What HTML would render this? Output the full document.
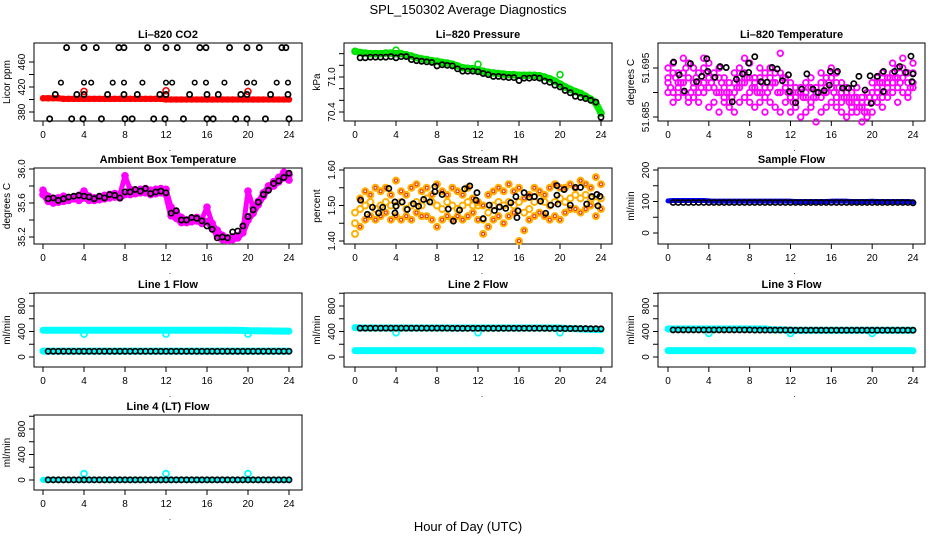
<!DOCTYPE html>
<html><head><meta charset="utf-8"><style>
html,body{margin:0;padding:0;background:#fff;}
svg{display:block;font-family:"Liberation Sans",Arial,sans-serif;}
</style></head><body>
<svg id="chart" width="936" height="540" viewBox="0 0 936 540">
<rect x="0" y="0" width="936" height="540" fill="#fff"/>
<text x="468" y="14" text-anchor="middle" font-size="13">SPL_150302  Average Diagnostics</text>
<text x="468" y="531" text-anchor="middle" font-size="13">Hour of Day (UTC)</text>
</svg>
<script>
// ---------- data ----------
const hh=[0,0.5,1,1.5,2,2.5,3,3.5,4,4.5,5,5.5,6,6.5,7,7.5,8,8.5,9,9.5,10,10.5,11,11.5,12,12.5,13,13.5,14,14.5,15,15.5,16,16.5,17,17.5,18,18.5,19,19.5,20,20.5,21,21.5,22,22.5,23,23.5,24];
const hb=[0.5,1,1.5,2,2.5,3,3.5,4,4.5,5,5.5,6,6.5,7,7.5,8,8.5,9,9.5,10,10.5,11,11.5,12,12.5,13,13.5,14,14.5,15,15.5,16,16.5,17,17.5,18,18.5,19,19.5,20,20.5,21,21.5,22,22.5,23,23.5,24];
const hq=[0.25,0.75,1.25,1.75,2.25,2.75,3.25,3.75,4.25,4.75,5.25,5.75,6.25,6.75,7.25,7.75,8.25,8.75,9.25,9.75,10.25,10.75,11.25,11.75,12.25,12.75,13.25,13.75,14.25,14.75,15.25,15.75,16.25,16.75,17.25,17.75,18.25,18.75,19.25,19.75,20.25,20.75,21.25,21.75,22.25,22.75,23.25,23.75];
// CO2
const co2Red=[402,402,402,402,401,401,401,401,401,401,401,401,401,401,401,401,401,401,401,401,401,401,401,401,400,400,400,400,400,400,400,400,400,400,400,400,400,400,400,400,400,400,400,400,400,400,400,400,400];
const co2RedOutT=[4,12,20];
const co2RedOutV=[413,414,413];
const co2TopT=[2.3,4.0,5.2,7.4,7.9,10.2,12.0,13.1,15.3,15.9,18.2,19.9,21.1,23.3,23.7];
const co2TopV=[483,483,483,483,483,483,483,483,483,483,483,483,483,483,483];
const co2SqT=[1.75,4.0,4.7,6.8,7.9,9.7,12.0,12.6,14.8,15.9,17.7,19.9,20.6,22.8,23.9];
const co2SqV=[427,427,427,427,427,427,427,427,427,427,427,427,427,427,427];
const co2MidT=[1.2,3.3,4.0,6.3,7.9,9.2,11.4,12.0,14.3,16.0,17.1,19.3,19.9,22.2,23.9];
const co2MidV=[408,408,408,408,408,408,408,408,408,408,408,408,408,408,408];
const co2LowT=[0.65,2.8,3.9,5.7,8.0,8.7,10.8,11.9,13.7,16.0,16.6,18.8,19.9,21.7,24.0];
const co2LowV=[369,369,369,369,369,369,369,369,369,369,369,369,369,369,369];
// Pressure
const presGreen=[71.44,71.42,71.41,71.40,71.40,71.40,71.41,71.41,71.40,71.40,71.38,71.36,71.33,71.31,71.30,71.28,71.27,71.25,71.24,71.22,71.19,71.16,71.15,71.14,71.12,71.10,71.08,71.07,71.06,71.05,71.04,71.04,71.03,71.03,71.03,71.03,71.02,71.00,70.97,70.93,70.88,70.83,70.79,70.75,70.72,70.67,70.62,70.55,70.38];
const presBlack=[71.33,71.33,71.34,71.34,71.34,71.34,71.35,71.33,71.35,71.35,71.30,71.28,71.27,71.26,71.25,71.19,71.21,71.20,71.19,71.14,71.10,71.10,71.10,71.09,71.06,71.04,71.01,71.01,71.00,70.99,70.99,70.94,70.98,70.98,70.99,70.98,70.93,70.91,70.86,70.83,70.77,70.73,70.67,70.65,70.63,70.60,70.57,70.31];
// Li-820 temperature
const tempA=[51.695,51.696,51.694,51.697,51.696,51.695,51.694,51.697,51.696,51.694,51.695,51.693,51.692,51.694,51.695,51.697,51.696,51.693,51.695,51.694,51.695,51.694,51.698,51.693,51.692,51.691,51.690,51.692,51.693,51.691,51.694,51.693,51.695,51.694,51.692,51.691,51.690,51.691,51.689,51.690,51.692,51.693,51.694,51.693,51.696,51.695,51.697,51.694,51.696];
const tempB=[51.692,51.690,51.691,51.692,51.689,51.691,51.690,51.692,51.691,51.693,51.690,51.689,51.688,51.690,51.691,51.692,51.690,51.691,51.690,51.689,51.691,51.692,51.690,51.691,51.689,51.688,51.690,51.689,51.688,51.690,51.689,51.690,51.691,51.689,51.688,51.689,51.687,51.688,51.687,51.686,51.688,51.690,51.689,51.691,51.692,51.691,51.693,51.690,51.692];
const tempC=[51.690,51.688,51.689,51.690,51.688,51.689,51.688,51.690,51.687,51.688,51.686,51.688,51.687,51.686,51.688,51.689,51.688,51.687,51.688,51.686,51.688,51.687,51.686,51.688,51.686,51.687,51.685,51.686,51.687,51.684,51.686,51.687,51.688,51.687,51.686,51.685,51.686,51.686,51.684,51.685,51.686,51.688,51.687,51.689,51.690,51.688,51.690,51.689,51.691];
const tempD=[51.693,51.694,51.692,51.694,51.693,51.692,51.692,51.695,51.693,51.691,51.693,51.691,51.690,51.692,51.693,51.694,51.693,51.692,51.693,51.691,51.693,51.692,51.694,51.692,51.690,51.689,51.691,51.690,51.691,51.689,51.692,51.691,51.693,51.692,51.690,51.690,51.688,51.689,51.688,51.688,51.690,51.691,51.692,51.692,51.694,51.693,51.695,51.692,51.694];
const tempE=[51.691,51.693,51.692,51.695,51.690,51.693,51.691,51.694,51.692,51.690,51.692,51.690,51.689,51.691,51.692,51.693,51.691,51.690,51.692,51.690,51.692,51.690,51.693,51.690,51.688,51.690,51.689,51.691,51.689,51.690,51.690,51.692,51.690,51.691,51.689,51.688,51.689,51.687,51.686,51.689,51.689,51.692,51.690,51.693,51.693,51.692,51.694,51.691,51.693];
const tempBlkT=[0.55,1.1,1.6,2.2,2.8,3.3,3.8,3.9,4.6,5.1,5.7,6.3,6.7,7.3,7.9,7.9,8.5,9.1,9.7,10.2,10.7,11.2,11.8,11.9,12.5,13.1,13.6,14.2,14.7,15.3,15.8,15.9,16.6,17.1,17.7,18.2,18.7,19.3,19.8,19.9,20.5,21.1,21.1,22.2,22.7,23.3,23.8,23.9,24];
const tempBlkV=[51.6962,51.6936,51.6903,51.6959,51.6922,51.6933,51.6969,51.6943,51.6931,51.6953,51.6951,51.6881,51.6927,51.6938,51.6960,51.6941,51.6973,51.6922,51.6921,51.6951,51.6948,51.6924,51.6936,51.6902,51.6879,51.6907,51.6938,51.6907,51.6900,51.6904,51.6915,51.6943,51.6943,51.6909,51.6909,51.6918,51.6933,51.6905,51.6934,51.6878,51.6933,51.6902,51.6943,51.6943,51.6953,51.6941,51.6974,51.6922,51.6938];
// Ambient
const ambA=[35.75,35.68,35.64,35.66,35.68,35.66,35.67,35.69,35.74,35.68,35.66,35.67,35.69,35.70,35.71,35.70,35.92,35.76,35.74,35.76,35.77,35.75,35.76,35.77,35.76,35.55,35.49,35.43,35.40,35.42,35.43,35.41,35.55,35.36,35.28,35.22,35.19,35.20,35.21,35.28,35.74,35.55,35.62,35.72,35.80,35.85,35.90,35.96,35.93];
const ambB=[35.70,35.62,35.60,35.61,35.62,35.63,35.65,35.63,35.66,35.63,35.63,35.64,35.65,35.66,35.67,35.66,35.70,35.70,35.71,35.72,35.72,35.70,35.71,35.72,35.70,35.45,35.42,35.37,35.37,35.38,35.39,35.36,35.38,35.31,35.22,35.17,35.16,35.17,35.19,35.25,35.40,35.48,35.58,35.68,35.77,35.80,35.85,35.90,35.87];
const ambBlk=[35.65,35.66,35.63,35.65,35.67,35.68,35.69,35.68,35.67,35.65,35.68,35.66,35.70,35.69,35.66,35.73,35.73,35.76,35.74,35.77,35.71,35.73,35.74,35.72,35.48,35.51,35.40,35.40,35.43,35.42,35.39,35.33,35.29,35.19,35.20,35.19,35.26,35.27,35.33,35.44,35.52,35.61,35.70,35.75,35.83,35.86,35.90,35.95];
// RH
const rhA=[1.48,1.52,1.54,1.53,1.55,1.54,1.55,1.53,1.57,1.54,1.53,1.55,1.56,1.54,1.55,1.53,1.56,1.54,1.53,1.55,1.54,1.53,1.55,1.52,1.51,1.50,1.53,1.54,1.55,1.54,1.56,1.54,1.55,1.52,1.53,1.55,1.54,1.53,1.55,1.56,1.55,1.55,1.56,1.55,1.57,1.56,1.55,1.58,1.56];
const rhB=[1.45,1.49,1.50,1.51,1.49,1.50,1.51,1.50,1.50,1.51,1.49,1.50,1.51,1.50,1.52,1.51,1.50,1.49,1.51,1.50,1.49,1.50,1.51,1.50,1.50,1.46,1.48,1.50,1.51,1.50,1.51,1.50,1.51,1.48,1.49,1.51,1.52,1.51,1.50,1.51,1.52,1.51,1.52,1.53,1.52,1.53,1.52,1.51,1.52];
const rhC=[1.42,1.44,1.46,1.47,1.46,1.47,1.48,1.46,1.47,1.46,1.47,1.46,1.48,1.47,1.47,1.46,1.44,1.46,1.47,1.46,1.47,1.46,1.47,1.48,1.46,1.42,1.44,1.46,1.47,1.45,1.47,1.48,1.40,1.43,1.46,1.47,1.48,1.47,1.46,1.47,1.46,1.48,1.49,1.49,1.48,1.49,1.50,1.47,1.49];
const rhBlkT=[0.55,1.2,1.7,2.3,2.7,3.3,3.9,3.9,4.0,4.6,5.1,5.7,6.2,6.7,7.3,7.8,7.8,8.5,9.1,9.6,10.2,10.7,11.2,11.8,11.9,12.5,13.1,13.6,14.1,14.7,15.2,15.7,15.8,15.9,16.5,17.0,17.5,18.1,18.6,19.1,19.7,19.7,19.8,20.4,21.0,21.5,22.0,22.6,23.1,23.6,23.7,23.9];
const rhBlkV=[1.515,1.475,1.495,1.479,1.495,1.548,1.510,1.479,1.498,1.510,1.489,1.505,1.498,1.517,1.510,1.539,1.553,1.531,1.490,1.456,1.487,1.547,1.555,1.515,1.536,1.463,1.501,1.486,1.496,1.492,1.508,1.525,1.466,1.485,1.536,1.523,1.525,1.512,1.478,1.501,1.556,1.529,1.504,1.545,1.501,1.551,1.551,1.504,1.525,1.531,1.499,1.526];
// Sample flow
const sampBlue=[102,103,103,103,103,103,103,103,102,101,101,101,101,101,101,101,101,101,101,101,101,101,101,101,101,100,100,100,100,100,100,100,101,101,101,101,100,100,100,100,101,100,100,100,100,100,100,100,99];
const sampBlack=[97,97,97,97,97,97,97,97,97,97,97,97,97,97,97,97,97,97,97,97,97,97,97,97,97,97,97,97,97,97,97,97,97,97,97,97,97,97,97,97,97,97,97,97,97,97,97,96];
// Line flows
const l1CyanHi=[420,420,420,420,420,420,420,420,420,420,420,420,420,420,420,420,420,420,420,420,420,420,420,420,420,420,420,420,420,420,420,420,420,420,420,420,420,420,418,418,414,412,412,410,410,408,408,406,405];
const l1CyanLo=[92,92,92,92,92,92,92,92,92,92,92,92,92,92,92,92,92,92,92,92,92,92,92,92,92,92,92,92,92,92,92,92,92,92,92,92,92,92,92,92,92,92,92,92,92,92,92,92,92];
const l1Black=[90,90,90,90,90,90,90,90,90,90,90,90,90,90,90,90,90,90,90,90,90,90,90,90,90,90,90,90,90,90,90,90,90,90,90,90,90,90,90,90,90,90,90,90,90,90,90,90];
const l1OutT=[4,12,20];
const l1OutV=[360,360,360];
const l2CyanHi=[460,455,455,455,455,455,455,455,455,455,455,455,455,455,455,455,455,455,455,455,455,455,455,455,455,455,455,455,455,455,455,455,455,455,455,455,455,455,455,455,455,450,448,445,440,438,435,432,430];
const l2CyanLo=[100,100,100,100,100,100,100,100,100,100,100,100,100,100,100,100,100,100,100,100,100,100,100,100,100,100,100,100,100,100,100,100,100,100,100,100,100,100,100,100,100,100,100,100,100,100,100,100,98];
const l2Black=[452,452,452,452,452,452,452,452,452,452,452,452,452,452,452,452,452,452,450,450,450,450,450,450,450,450,450,450,450,450,450,450,450,450,450,450,450,448,448,448,446,446,446,445,445,443,443,442];
const l2OutT=[4,12,20];
const l2OutV=[380,380,380];
const l3CyanHi=[440,440,440,440,440,440,440,440,440,440,440,440,440,440,440,440,440,440,440,440,430,425,425,425,420,420,420,420,420,420,420,420,420,420,420,420,420,420,420,420,420,420,420,420,420,420,420,420,420];
const l3CyanLo=[100,100,100,100,100,100,100,100,100,100,100,100,100,100,100,100,100,100,100,100,100,100,100,100,100,100,100,100,100,100,100,100,100,100,100,100,100,100,100,100,100,100,100,100,100,100,100,100,98];
const l3Black=[425,425,425,425,425,425,425,425,425,425,425,425,425,425,425,425,422,422,422,422,422,422,422,422,420,420,420,420,420,420,420,420,420,420,420,420,420,420,420,420,420,420,420,420,420,420,420,420];
const l3OutT=[4,12,20];
const l3OutV=[370,370,370];
const l4Cyan=[2,2,2,2,2,2,2,2,2,2,2,2,2,2,2,2,2,2,2,2,2,2,2,2,2,2,2,2,2,2,2,2,2,2,2,2,2,2,2,2,2,2,2,2,2,2,2,2,2];
const l4Black=[2,2,2,2,2,2,2,2,2,2,2,2,2,2,2,2,2,2,2,2,2,2,2,2,2,2,2,2,2,2,2,2,2,2,2,2,2,2,2,2,2,2,2,2,2,2,2,2];
const l4OutT=[4,12,20];
const l4OutV=[100,100,100];
const xTicks=[0,4,8,12,16,20,24];

// ---------- layout ----------
const NS='http://www.w3.org/2000/svg';
const svg=document.getElementById('chart');
const COLS=[{bl:34,br:302,x0:43,x24:289},{bl:344,br:612,x0:355,x24:601},{bl:658,br:925,x0:668,x24:913}];
const ROWS=[{bt:43,bb:121},{bt:168,bb:244},{bt:293,bb:367},{bt:415,bb:490}];
function el(tag,attrs,parent){const e=document.createElementNS(NS,tag);for(const k in attrs)e.setAttribute(k,attrs[k]);(parent||svg).appendChild(e);return e;}
function mkY(v1,p1,v2,p2){return v=>p1+(v-v1)*(p2-p1)/(v2-v1);}

function panel(key,title,col,row,ylab,Y,ticks,labels){
  const c=COLS[col],r=ROWS[row];
  const g=el('g',{});
  
  
  const X=t=>c.x0+t*(c.x24-c.x0)/24;
  const box=el('rect',{x:c.bl,y:r.bt,width:c.br-c.bl,height:r.bb-r.bt,fill:'none',stroke:'#000','stroke-width':1},g);
  
  
  const tt=el('text',{x:(c.bl+c.br)/2,y:r.bt-5,'text-anchor':'middle','font-size':11,'font-weight':'bold'},g);
  tt.textContent=title;
  
  
  const xa=el('g',{},g);
  
  
  el('line',{x1:X(0),x2:X(24),y1:r.bb,y2:r.bb,stroke:'#000'},xa);
  xTicks.forEach(t=>{
    el('line',{x1:X(t),x2:X(t),y1:r.bb,y2:r.bb+5,stroke:'#000'},xa);
    const lt=el('text',{x:X(t),y:r.bb+17,'text-anchor':'middle','font-size':10},xa);
    lt.textContent=t;
    
    
  });
  const ya=el('g',{},g);
  
  
  el('line',{x1:c.bl,x2:c.bl,y1:Y(ticks[0]),y2:Y(ticks[ticks.length-1]),stroke:'#000'},ya);
  ticks.forEach(v=>{el('line',{x1:c.bl-5,x2:c.bl,y1:Y(v),y2:Y(v),stroke:'#000'},ya);});
  labels.forEach(s=>{
    const y=Y(parseFloat(s));
    const lt=el('text',{x:c.bl-9,y:y,'text-anchor':'middle','font-size':10,transform:`rotate(-90 ${c.bl-9} ${y})`},ya);
    lt.textContent=s;
    
    
  });
  const yt=el('text',{x:c.bl-24,y:(r.bt+r.bb)/2,'text-anchor':'middle','font-size':10,transform:`rotate(-90 ${c.bl-24} ${(r.bt+r.bb)/2})`},g);
  yt.textContent=ylab;
  
  
  const dot=el('text',{x:X(12)+4,y:r.bb+30,'text-anchor':'middle','font-size':8},g);
  dot.textContent='.';
  
  
  return {g,X,Y};
}
function pts(P,ts,vs,color,rad,sw,name){
  const g=el('g',{},P.g);
  
  
  ts.forEach((t,i)=>{
    const cc=el('circle',{cx:P.X(t),cy:P.Y(vs[i]),r:rad,fill:'none',stroke:color,'stroke-width':sw},g);
    
    
  });
}
function band(P,ts,vs,color,w,name){
  const pl=el('polyline',{points:ts.map((t,i)=>P.X(t)+','+P.Y(vs[i])).join(' '),fill:'none',stroke:color,'stroke-width':w,'stroke-linejoin':'round','stroke-linecap':'round'},P.g);
  
  
}
const BK=2.6, BW=1.7;

// 1 CO2
let P=panel('co2','Li\u2013820 CO2',0,0,'Licor ppm',mkY(380,112,460,62),[380,400,420,440,460],['380','420','460']);
band(P,hh,co2Red,'#ff0000',6,'co2-red-band');
pts(P,hh,co2Red,'#ff0000',2.5,1.5,'co2-red');
pts(P,co2RedOutT,co2RedOutV,'#ff0000',3,1.6,'co2-red-outlier');
pts(P,co2TopT,co2TopV,'#000',BK,BW,'co2-black-top');
pts(P,co2SqT,co2SqV,'#000',2.3,1.5,'co2-black-mid');
pts(P,co2MidT,co2MidV,'#000',BK,BW,'co2-black-408');
pts(P,co2LowT,co2LowV,'#000',BK,BW,'co2-black-low');

// 2 Pressure
P=panel('pressure','Li\u2013820 Pressure',1,0,'kPa',mkY(70.4,112,71.0,77),[70.4,70.6,70.8,71.0,71.2,71.4],['70.4','71.0']);
band(P,hh,presGreen,'#00ee00',7,'pressure-green-band');
pts(P,hh,presGreen,'#00dd00',3,1.6,'pressure-green');
pts(P,[4,12,20],[71.46,71.22,71.04],'#00dd00',3,1.6,'pressure-green-outlier');
pts(P,hb,presBlack,'#000',BK,BW,'pressure-black');

// 3 Temperature
P=panel('li820-temp','Li\u2013820 Temperature',2,0,'degrees C',mkY(51.685,117,51.695,68),[51.685,51.690,51.695],['51.685','51.695']);
[tempA,tempB,tempC,tempD].forEach((arr,k)=>pts(P,hh,arr,'#ff00ff',2.8,1.8,'temp-magenta-'+k));
pts(P,hq,tempE,'#ff00ff',2.8,1.8,'temp-magenta-e');
pts(P,tempBlkT,tempBlkV,'#000',BK,BW,'temp-black');

// 4 Ambient
P=panel('ambient','Ambient Box Temperature',0,1,'degrees C',mkY(35.2,237,36.0,169),[35.2,35.4,35.6,35.8,36.0],['35.2','35.6','36.0']);
band(P,hh,ambA,'#ff00ff',5,'ambient-band-a');
band(P,hh,ambB,'#ff00ff',6,'ambient-band-b');
pts(P,hh,ambA,'#ff00ff',3,1.7,'ambient-magenta-a');
pts(P,hh,ambB,'#ff00ff',3,1.7,'ambient-magenta-b');
pts(P,hb,ambBlk,'#000',BK,BW,'ambient-black');

// 5 RH
P=panel('rh','Gas Stream RH',1,1,'percent',mkY(1.40,241,1.60,170),[1.40,1.45,1.50,1.55,1.60],['1.40','1.50','1.60']);
pts(P,hh,rhA,'#ffb000',3,2,'rh-orange-a');
pts(P,hh,rhB,'#ffb000',3,2,'rh-orange-b');
pts(P,hh,rhC,'#ffb000',3,2,'rh-orange-c');
pts(P,hb,rhA.slice(1),'#e83000',1.5,1,'rh-red-a');
pts(P,hb,rhC.slice(1),'#e83000',1.5,1,'rh-red-c');
pts(P,rhBlkT,rhBlkV,'#000',BK,BW,'rh-black');

// 6 Sample flow
P=panel('sample-flow','Sample Flow',2,1,'ml/min',mkY(0,233,200,170),[0,50,100,150,200],['0','100','200']);
band(P,hh,sampBlue,'#0000ff',5,'sample-blue-band');
pts(P,hb,sampBlack,'#000',BK,BW,'sample-black');

// 7-10 Line flows
const flowTicks=[0,200,400,600,800,1000], flowLabels=['0','400','800'];
P=panel('line1','Line 1 Flow',0,2,'ml/min',mkY(0,357,800,306),flowTicks,flowLabels);
band(P,hh,l1CyanHi,'#00ffff',7,'line1-cyan-high');
band(P,hh,l1CyanLo,'#00ffff',7,'line1-cyan-low');
pts(P,l1OutT,l1OutV,'#00ffff',3,1.7,'line1-cyan-outlier');
pts(P,hb,l1Black,'#000',BK,BW,'line1-black');

P=panel('line2','Line 2 Flow',1,2,'ml/min',mkY(0,357,800,306),flowTicks,flowLabels);
band(P,hh,l2CyanHi,'#00ffff',7,'line2-cyan-high');
band(P,hh,l2CyanLo,'#00ffff',7,'line2-cyan-low');
pts(P,l2OutT,l2OutV,'#00ffff',3,1.7,'line2-cyan-outlier');
pts(P,hb,l2Black,'#000',BK,BW,'line2-black');

P=panel('line3','Line 3 Flow',2,2,'ml/min',mkY(0,357,800,306),flowTicks,flowLabels);
band(P,hh,l3CyanHi,'#00ffff',7,'line3-cyan-high');
band(P,hh,l3CyanLo,'#00ffff',7,'line3-cyan-low');
pts(P,l3OutT,l3OutV,'#00ffff',3,1.7,'line3-cyan-outlier');
pts(P,hb,l3Black,'#000',BK,BW,'line3-black');

P=panel('line4','Line 4 (LT) Flow',0,3,'ml/min',mkY(0,480,800,429),flowTicks,flowLabels);
band(P,hh,l4Cyan,'#00ffff',6,'line4-cyan');
pts(P,l4OutT,l4OutV,'#00ffff',3,1.7,'line4-cyan-outlier');
pts(P,hb,l4Black,'#000',BK,BW,'line4-black');
</script>
</body></html>
